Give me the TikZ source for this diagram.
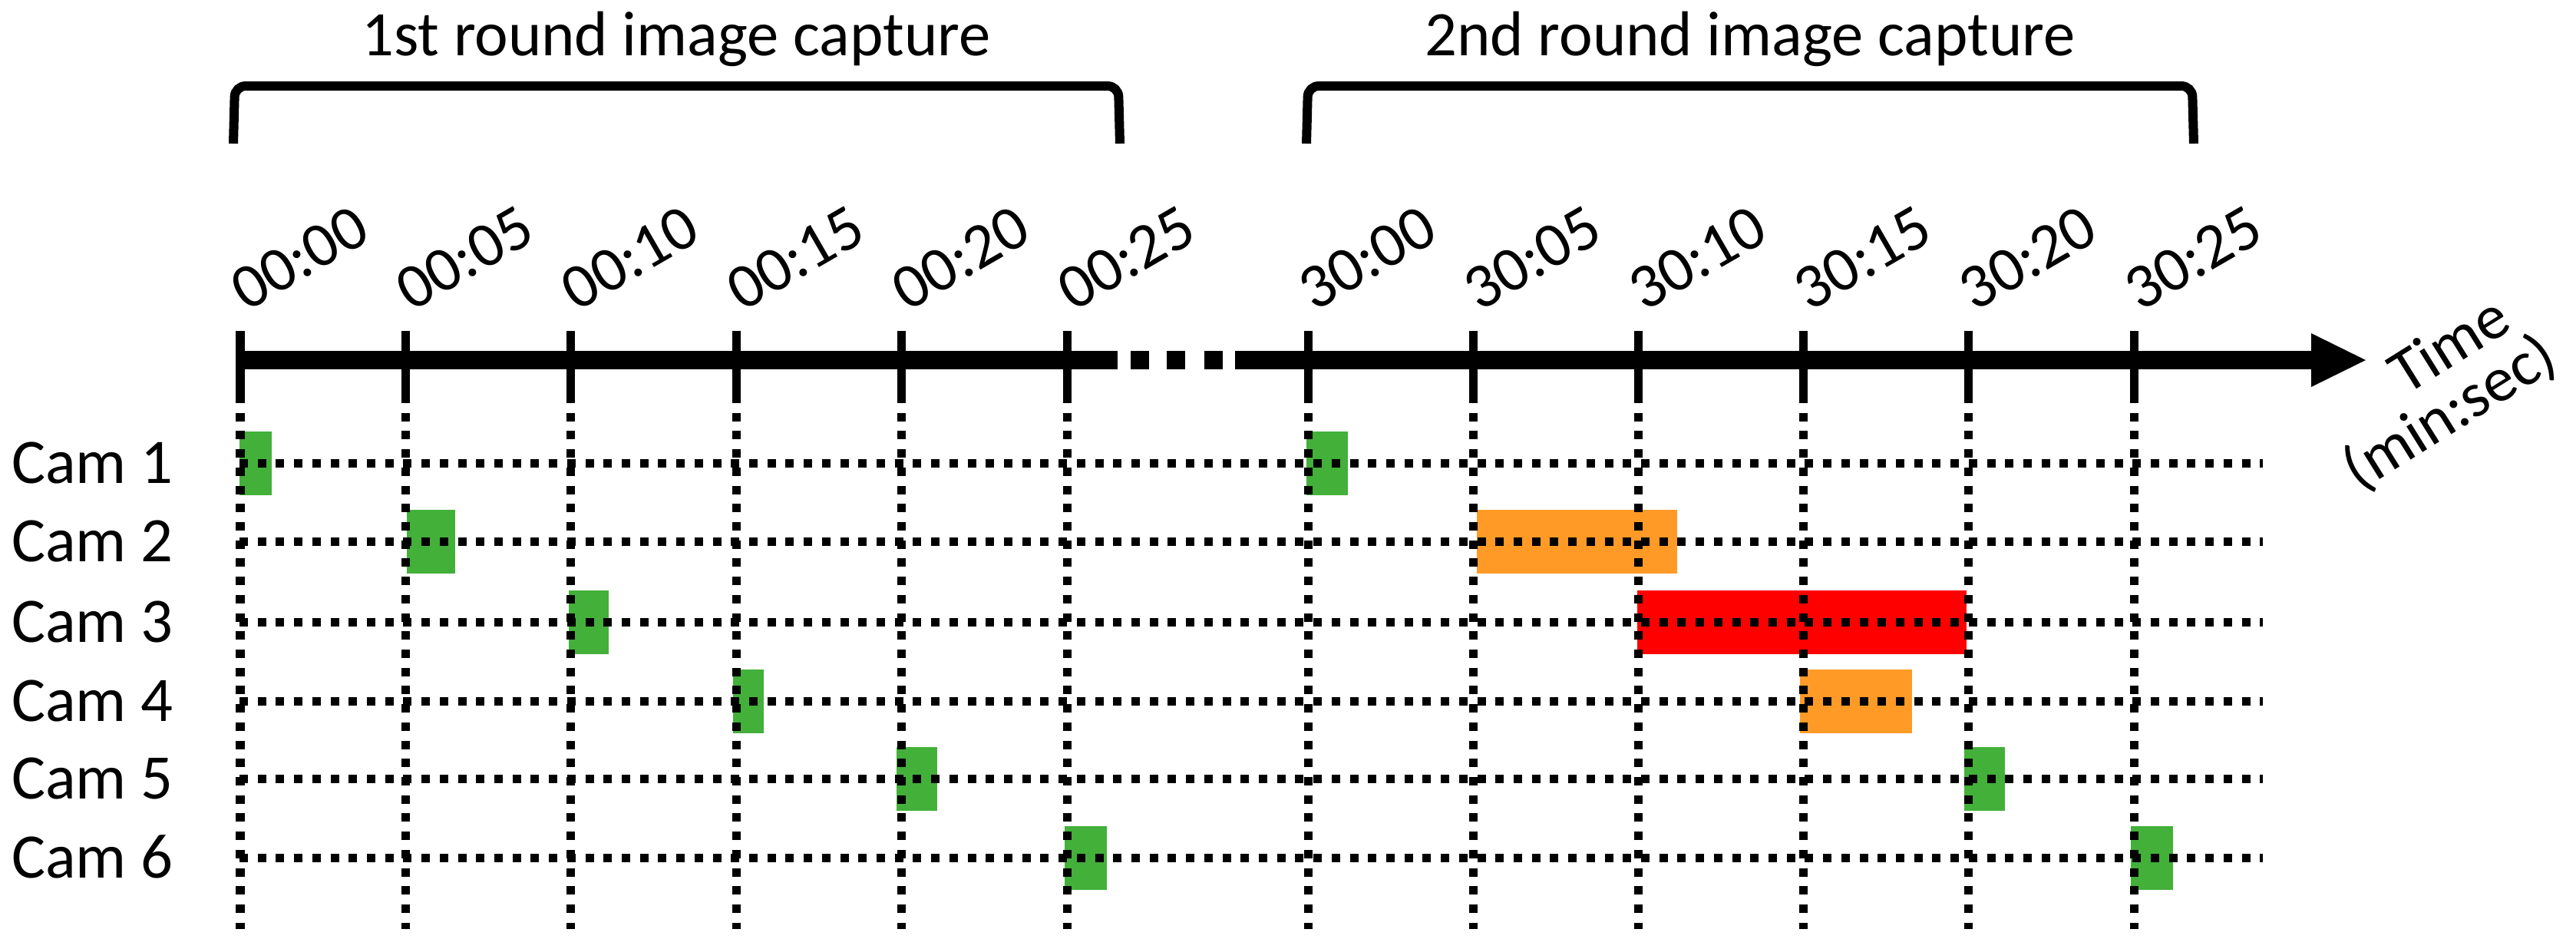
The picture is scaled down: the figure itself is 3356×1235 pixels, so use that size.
\documentclass[tikz,border=0pt]{standalone}
\usepackage{fontspec}
\setmainfont{Carlito}
\definecolor{camgreen}{RGB}{67,176,58}
\definecolor{camorange}{RGB}{255,154,38}
\definecolor{camred}{RGB}{255,0,0}
\begin{document}
\begin{tikzpicture}[x=0.01cm,y=-0.01cm,
  lbl/.style={font=\fontsize{23.5}{27}\selectfont, inner sep=0pt, outer sep=0pt},
  ticklbl/.style={lbl, rotate=30, anchor=base west},
  tickline/.style={line width=0.11cm},
  gridline/.style={line width=0.11cm, dash pattern=on 0.11cm off 0.127cm},
  axisline/.style={line width=0.24cm},
  bracketline/.style={line width=0.12cm, rounded corners=0.14cm},
]
\useasboundingbox (0,0) rectangle (3356,1235);

% capture boxes (drawn first, grid on top)
\foreach \xa/\xb/\y/\c in {
  312/354/603/camgreen, 530/593/705/camgreen, 741/793/810/camgreen,
  955/995/913/camgreen, 1168/1221/1014/camgreen, 1387/1442/1117/camgreen,
  1702/1756/603/camgreen, 1924/2185/705/camorange, 2133/2562/810/camred,
  2345/2491/913/camorange, 2559/2612/1014/camgreen, 2776/2831/1117/camgreen}
  \fill[\c] (\xa,\y-41.5) rectangle (\xb,\y+41.5);

% camera rows
\foreach \n/\y in {1/603,2/705,3/810,4/913,5/1014,6/1117} {
  \node[lbl, anchor=base west] (cam\n) at (15,\y+26) {Cam \n};
  \coordinate (rs\n) at (312,\y);
  \coordinate (re\n) at (2948,\y);
  \draw[gridline] (rs\n) -- (re\n);
}

% ticks, vertical grid lines and labels
\foreach \i/\x/\t in {0/313/00:00,1/528.4/00:05,2/743.8/00:10,3/959.2/00:15,4/1174.6/00:20,5/1390/00:25,
  6/1704/30:00,7/1919.2/30:05,8/2134.4/30:10,9/2349.6/30:15,10/2564.8/30:20,11/2780/30:25} {
  \coordinate (tt\i) at (\x,431);
  \coordinate (tb\i) at (\x,514);
  \coordinate (ge\i) at (\x,1210);
  \draw[gridline] (tb\i) -- (ge\i);
  \draw[tickline] (tt\i) -- (tb\i);
  \node[ticklbl] (lab\i) at (\x+8,406) {\t};
}

% time axis
\coordinate (a0) at (308,469);
\coordinate (a1) at (1456,469);
\coordinate (a2) at (1609,469);
\coordinate (a3) at (3013,469);
\draw[axisline] (a0) -- (a1);
\fill (1473,457) rectangle (1497,481);
\fill (1520,457) rectangle (1544,481);
\fill (1569,457) rectangle (1593,481);
\draw[axisline] (a2) -- (a3);
\fill (3011,434) -- (3082,469) -- (3011,504) -- cycle;
\node[lbl, rotate=32] (timelbl) at (3190,448) {Time};
\node[lbl, rotate=32] (unitlbl) at (3192,538) {(min:sec)};

% brackets and titles
\draw[bracketline] (304,187) -- (306,112) -- (1457,112) -- (1459,187);
\draw[bracketline] (1702,187) -- (1704,112) -- (2856,112) -- (2858,187);
\node[lbl, anchor=base] (round1) at (881,72) {1st round image capture};
\node[lbl, anchor=base] (round2) at (2280,72) {2nd round image capture};
\end{tikzpicture}
\end{document}
